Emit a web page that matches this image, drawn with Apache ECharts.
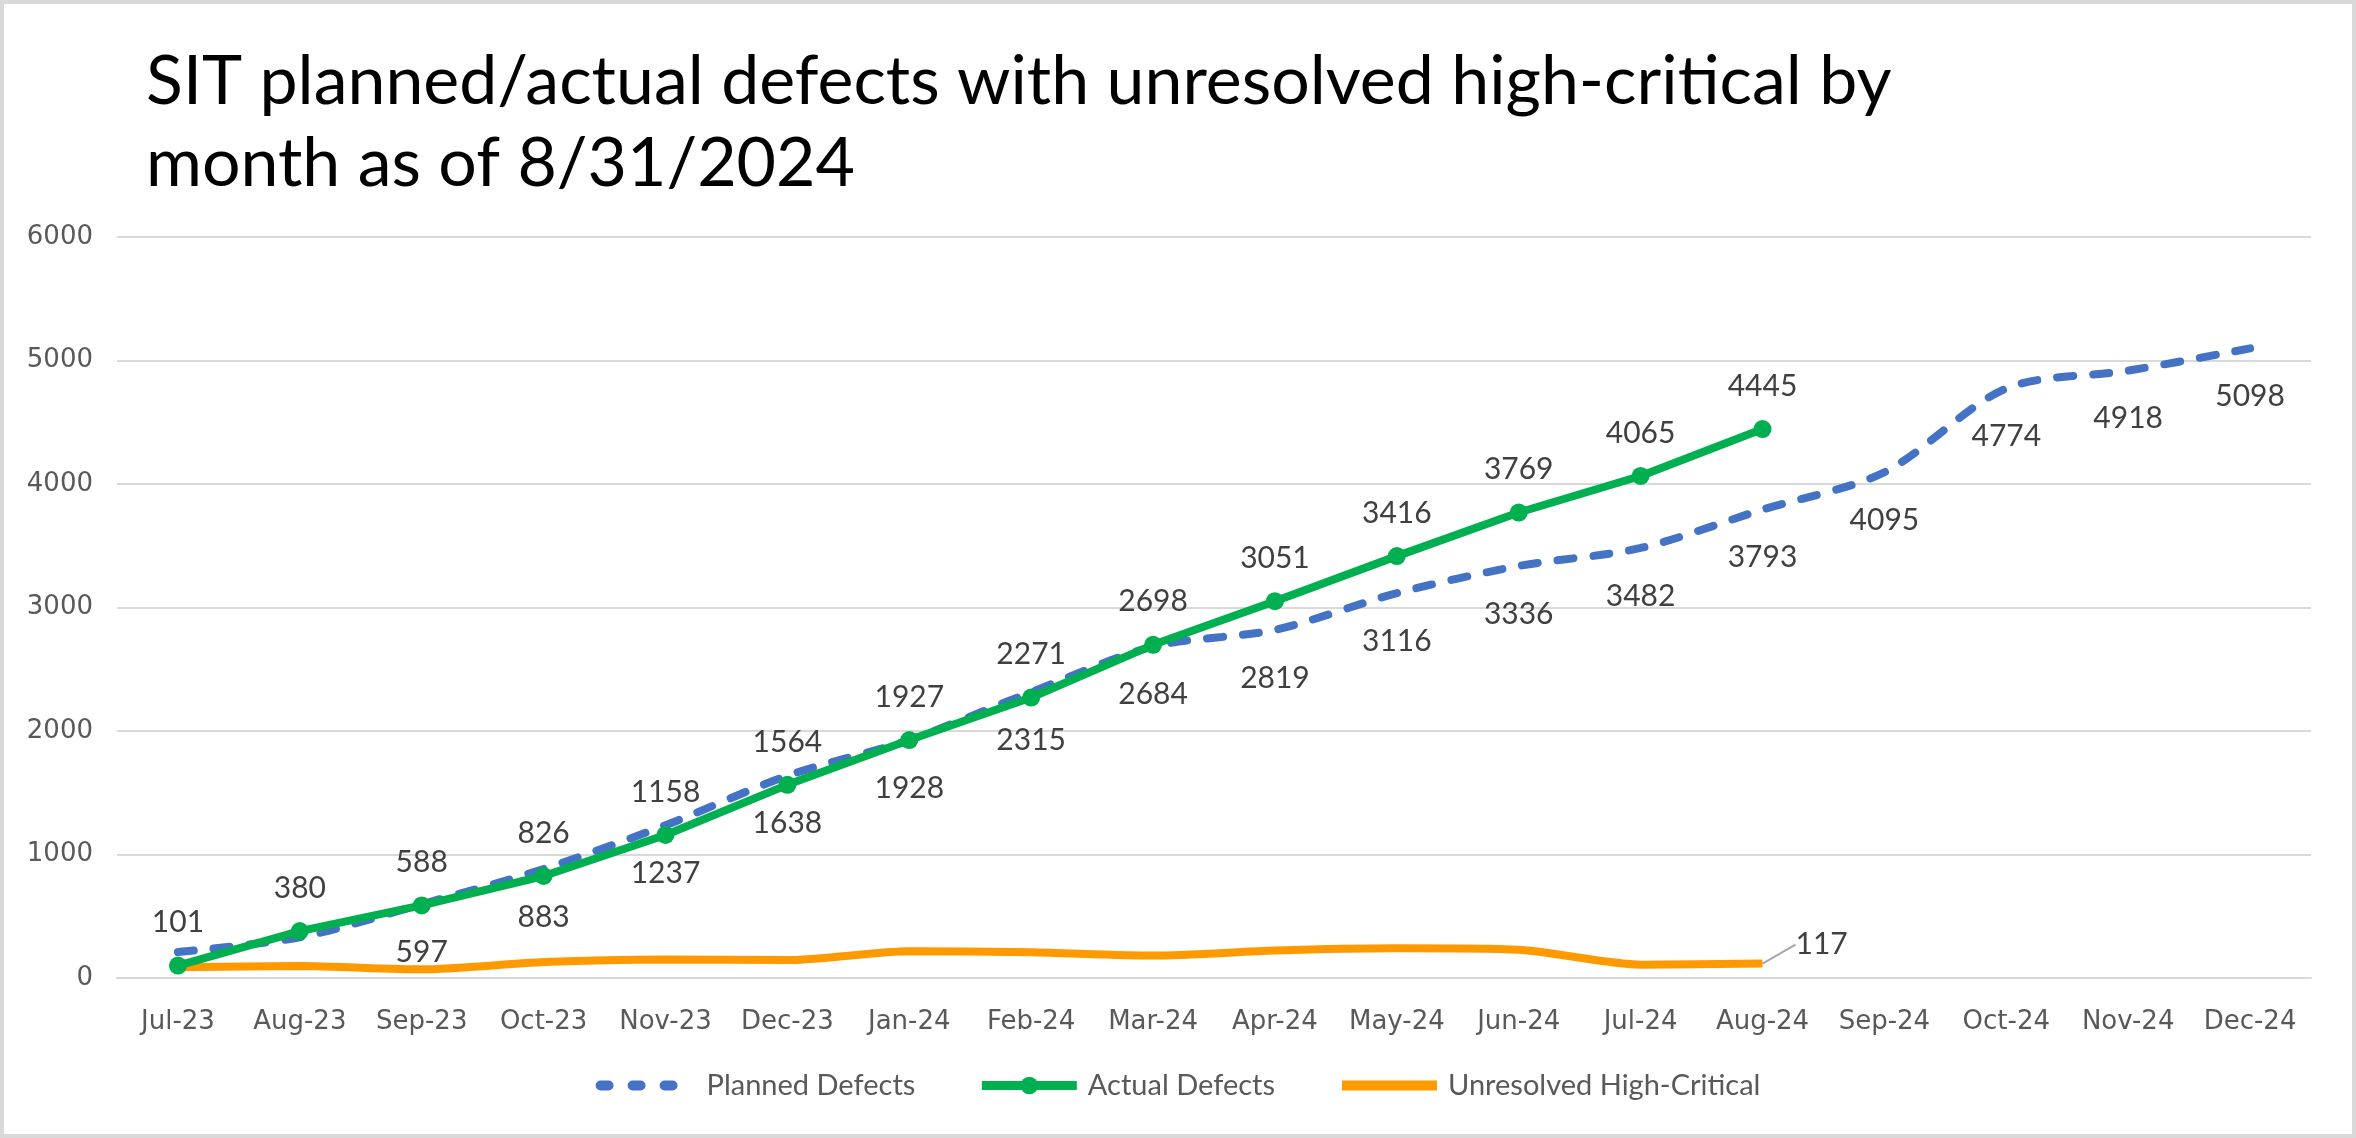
<!DOCTYPE html>
<html>
<head>
    <meta charset="utf-8"/>
    <script src="https://cdn.jsdelivr.net/npm/echarts@6/dist/echarts.min.js"></script>
    <style>
        html, body { margin: 0; padding: 0; background: #ffffff; }
    </style>
</head>
<body>
<div id="main" style="width: 2356px;height:1138px;"></div>
<script type="text/javascript">
    // data
    var months = ['Jul-23', 'Aug-23', 'Sep-23', 'Oct-23', 'Nov-23', 'Dec-23', 'Jan-24', 'Feb-24', 'Mar-24',
        'Apr-24', 'May-24', 'Jun-24', 'Jul-24', 'Aug-24', 'Sep-24', 'Oct-24', 'Nov-24', 'Dec-24'];
    var plannedDefects = [210, 330, 597, 883, 1237, 1638, 1928, 2315, 2684, 2819, 3116, 3336, 3482, 3793, 4095, 4774, 4918, 5098];
    var actualDefects = [101, 380, 588, 826, 1158, 1564, 1927, 2271, 2698, 3051, 3416, 3769, 4065, 4445];
    var unresolvedHighCritical = [88, 97, 70, 129, 150, 145, 217, 209, 182, 222, 240, 228, 108, 117];
    var yTicks = [0, 1000, 2000, 3000, 4000, 5000, 6000];

    var labelFont = 'Lato';
    var axisFont = 'DejaVu Sans';

    var myChart = echarts.init(document.getElementById('main'));

    // only the last point of the orange line carries a label
    var orangeData = unresolvedHighCritical.map(function (v, i) {
        if (i === unresolvedHighCritical.length - 1) {
            return {value: v, label: {show: true}, labelLine: {show: true}};
        }
        return v;
    });

    var option = {
        animation: false,
        backgroundColor: '#ffffff',
        title: {
            text: 'SIT planned/actual defects with unresolved high-critical by\nmonth as of 8/31/2024',
            left: 141,
            top: 36,
            textStyle: {
                fontFamily: labelFont,
                fontWeight: 'normal',
                fontSize: 68,
                lineHeight: 82,
                color: '#000000'
            }
        },
        graphic: [{
            type: 'rect',
            shape: {x: 2, y: 2, width: 2352, height: 1134},
            style: {fill: 'none', stroke: '#D9D9D9', lineWidth: 4},
            silent: true
        }],
        legend: {
            top: 1066,
            left: 'center',
            itemWidth: 95,
            itemHeight: 22,
            itemGap: 62,
            textStyle: {
                fontFamily: labelFont,
                fontSize: 29,
                color: '#595959',
                padding: [0, 0, 0, 6]
            },
            data: [
                {
                    name: 'Planned Defects',
                    itemStyle: {opacity: 0},
                    lineStyle: {width: 10, type: [8, 24], cap: 'round'}
                },
                {name: 'Actual Defects', lineStyle: {width: 9}},
                {name: 'Unresolved High-Critical', itemStyle: {opacity: 0}, lineStyle: {width: 10}}
            ]
        },
        grid: {
            left: 117,
            right: 45,
            top: 237,
            bottom: 160
        },
        xAxis: {
            type: 'category',
            data: months,
            boundaryGap: true,
            axisLine: {show: true, lineStyle: {color: '#D9D9D9', width: 2}},
            axisTick: {show: false},
            axisLabel: {
                margin: 31,
                fontFamily: axisFont,
                fontSize: 26,
                color: '#595959',
                interval: 0
            }
        },
        yAxis: {
            type: 'value',
            min: yTicks[0],
            max: yTicks[yTicks.length - 1],
            interval: 1000,
            axisLine: {show: false},
            axisTick: {show: false},
            axisLabel: {
                margin: 24,
                fontFamily: axisFont,
                fontSize: 26,
                color: '#595959',
                formatter: function (v) { return String(v); }
            },
            splitLine: {lineStyle: {color: '#D9D9D9', width: 2}}
        },
        series: [
            {
                name: 'Planned Defects',
                type: 'line',
                data: plannedDefects,
                smooth: 0.3,
                symbol: 'circle',
                symbolSize: 0,
                z: 2,
                itemStyle: {color: '#4472C4'},
                lineStyle: {color: '#4472C4', width: 8, type: [16, 20], cap: 'round'},
                label: {
                    show: true,
                    position: 'bottom',
                    distance: 33,
                    fontFamily: labelFont,
                    fontSize: 30,
                    color: '#404040',
                    formatter: function (p) {
                        return p.dataIndex < 2 ? '' : p.value;
                    }
                }
            },
            {
                name: 'Actual Defects',
                type: 'line',
                data: actualDefects,
                symbol: 'circle',
                symbolSize: 18,
                z: 3,
                itemStyle: {color: '#00B050'},
                lineStyle: {color: '#00B050', width: 8},
                label: {
                    show: true,
                    position: 'top',
                    distance: 19,
                    fontFamily: labelFont,
                    fontSize: 30,
                    color: '#404040'
                }
            },
            {
                name: 'Unresolved High-Critical',
                type: 'line',
                data: orangeData,
                smooth: 0.25,
                symbol: 'circle',
                symbolSize: 0,
                z: 1,
                itemStyle: {color: '#FF9900'},
                lineStyle: {color: '#FF9900', width: 8},
                label: {
                    show: false,
                    position: 'right',
                    distance: 5,
                    fontFamily: labelFont,
                    fontSize: 30,
                    color: '#404040'
                },
                labelLayout: {dx: 28, dy: -19},
                labelLine: {
                    show: false,
                    length2: 8,
                    lineStyle: {color: '#A6A6A6', width: 2}
                }
            }
        ]
    };

    myChart.setOption(option);
</script>
</body>
</html>
